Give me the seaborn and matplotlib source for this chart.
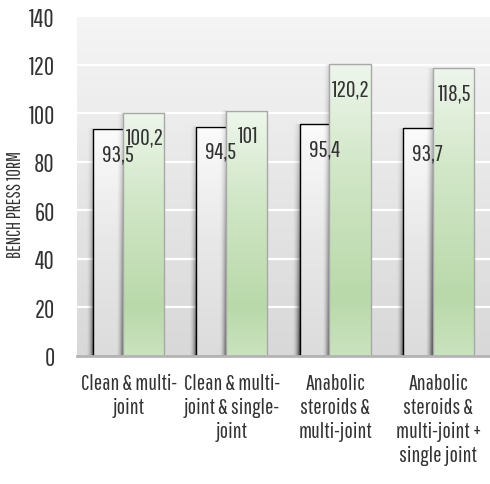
import numpy as np
import pandas as pd
import matplotlib
matplotlib.use("Agg")
import matplotlib.pyplot as plt
import seaborn as sns
from matplotlib.colors import LinearSegmentedColormap

# Donnees
categories = ["Clean & multi-\njoint",
              "Clean & multi-\njoint & single-\njoint",
              "Anabolic\nsteroids &\nmulti-joint",
              "Anabolic\nsteroids &\nmulti-joint +\nsingle joint"]
pre_values = [93.5, 94.5, 95.4, 93.7]
post_values = [100.2, 101, 120.2, 118.5]
groups = ["pre", "post"]
y_ticks = [0, 20, 40, 60, 80, 100, 120, 140]

df = pd.DataFrame({
    "cat": categories * 2,
    "group": ["pre"] * 4 + ["post"] * 4,
    "value": pre_values + post_values,
})

sns.set_style("white")
plt.rcParams["font.family"] = ["Pathway Gothic One", "PT Sans Narrow", "DejaVu Sans"]
txt = "#333333"

fig = plt.figure(figsize=(4.9, 4.85), dpi=100)
ax = fig.add_axes([77 / 490, 1 - 357 / 485, 413 / 490, 340 / 485])

sns.barplot(data=df, x="cat", y="value", hue="group", order=categories,
            hue_order=groups, palette=["white", "#c0dcb0"], width=0.58,
            legend=False, ax=ax)

ax.set_xlim(-0.5, 3.5)
ax.set_ylim(0, 140)

# fond degrade gris
bg = np.linspace(0, 1, 256).reshape(-1, 1)
bg_cmap = LinearSegmentedColormap.from_list("bg", ["#f5f5f5", "#d8d8d8"])
ax.imshow(bg, cmap=bg_cmap, extent=[0, 1, 0, 1], transform=ax.transAxes,
          aspect="auto", zorder=0)
ax.set_facecolor("none")
for y in y_ticks[1:]:
    ax.axhline(y, color="white", lw=1.6, zorder=0.5)

white_cmap = LinearSegmentedColormap.from_list("w", ["#fbfbfb", "#e8e8e8", "#dcdcdc"])
green_cmap = LinearSegmentedColormap.from_list(
    "g", [(0, "#eef6ec"), (0.35, "#d2e7c8"), (0.8, "#b9d9aa"), (1, "#cae3bf")])

for k, cont in enumerate(ax.containers):
    cmap = white_cmap if k == 0 else green_cmap
    edge = "black" if k == 0 else "#a8a8a8"
    z = 2 + 2 * k
    for p in cont.patches:
        cx = p.get_x() + p.get_width() / 2
        h = p.get_height()
        p.set_x(cx - 0.2)
        p.set_width(0.4)
        p.set_facecolor("none")
        p.set_edgecolor(edge)
        p.set_linewidth(1.0)
        p.set_zorder(z + 0.5)
        grad = np.linspace(0, 1, 256).reshape(-1, 1)
        ax.imshow(grad, cmap=cmap, extent=[cx - 0.2, cx + 0.2, 0, h],
                  aspect="auto", zorder=z, interpolation="bilinear")
        # ombre a gauche de la barre
        sh = np.zeros((64, 32, 4))
        sh[..., 3] = (np.linspace(0, 1, 32) ** 2)[None, :] * np.linspace(0.7, 0.15, 64)[:, None]
        ax.imshow(sh, extent=[cx - 0.2 - 0.07, cx - 0.2, 0, h], origin="lower",
                  aspect="auto", zorder=z - 0.2, interpolation="bilinear")
        lab = f"{h:g}".replace(".", ",")
        ax.annotate(lab, (cx + (0.04 if k == 0 else 0.01), h), xytext=(0, -10),
                    textcoords="offset points", ha="center", va="top",
                    fontsize=17, color=txt, zorder=10)

ax.set_xlim(-0.5, 3.5)
ax.set_ylim(0, 140)
ax.set_yticks(y_ticks)
ax.tick_params(axis="y", length=0, pad=16, labelsize=18, labelcolor=txt)
ax.tick_params(axis="x", length=0, pad=12, labelsize=16, labelcolor=txt)
for lbl in ax.get_xticklabels():
    lbl.set_linespacing(1.25)
ax.set_xlabel("")
ax.set_ylabel("BENCH PRESS 10RM", fontsize=13.5, color=txt)
ax.yaxis.set_label_coords(-0.125, 0.45)

for s in ["top", "right", "left"]:
    ax.spines[s].set_visible(False)
ax.spines["bottom"].set_color("#b4b4b4")
ax.spines["bottom"].set_linewidth(2)
ax.spines["bottom"].set_zorder(8)

fig.savefig("out.png", dpi=100)
